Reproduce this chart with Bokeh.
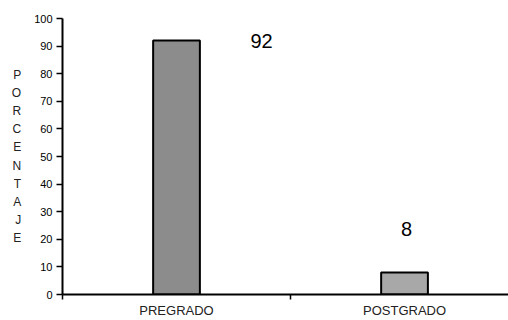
from bokeh.plotting import figure
from bokeh.models import Range1d, FixedTicker, ColumnDataSource
from bokeh.core.properties import value
from bokeh.embed import file_html
from bokeh.resources import INLINE

categories = ["PREGRADO", "POSTGRADO"]
values = [92, 8]
colors = ["#8c8c8c", "#a8a8a8"]
y_ticks = [0, 10, 20, 30, 40, 50, 60, 70, 80, 90, 100]
axis_title = "PORCENTAJE"

xs = [i + 0.5 for i in range(len(categories))]
src = ColumnDataSource(dict(x=xs, top=values, color=colors))

p = figure(width=508, height=320, output_backend="svg", toolbar_location=None,
           x_range=Range1d(0, 1.956), y_range=Range1d(0, 100),
           min_border_left=62, min_border_right=0, min_border_top=18, min_border_bottom=25)
p.outline_line_color = None
p.grid.visible = False
p.background_fill_color = "white"

p.vbar(x="x", top="top", width=0.205, fill_color="color", line_color="black", line_width=2, source=src)

# value labels (manual placements as in the original)
p.text(x=[xs[0]], y=[values[0]], text=[str(values[0])], x_offset=[85], y_offset=[0],
       text_font=value("Liberation Sans"), text_font_size="20px", text_align="center",
       text_baseline="middle", text_color="black")
p.text(x=[xs[1]], y=[values[1]], text=[str(values[1])], x_offset=[2], y_offset=[-43],
       text_font=value("Liberation Sans"), text_font_size="20px", text_align="center",
       text_baseline="middle", text_color="black")

# axes
p.yaxis.ticker = FixedTicker(ticks=y_ticks, minor_ticks=[])
p.yaxis.major_tick_in = 0
p.yaxis.major_tick_out = 6
p.yaxis.major_label_standoff = 4
p.yaxis.axis_line_width = 2
p.yaxis.major_tick_line_width = 1.5
p.yaxis.major_label_text_font = "Liberation Sans"
p.yaxis.major_label_text_font_size = "11px"
p.yaxis.major_label_text_color = "black"
p.yaxis.axis_label = "\n".join(axis_title)
p.yaxis.axis_label_orientation = "horizontal"
p.yaxis.axis_label_text_font = "Liberation Sans"
p.yaxis.axis_label_text_font_size = "12px"
p.yaxis.axis_label_text_font_style = "normal"
p.yaxis.axis_label_text_color = "#222222"
p.yaxis.axis_label_text_line_height = 1.29
p.yaxis.axis_label_text_align = "center"
p.yaxis.axis_label_standoff = 10

p.xaxis.ticker = FixedTicker(ticks=xs, minor_ticks=[0, 1, 2])
p.xaxis.major_label_overrides = {x: c for x, c in zip(xs, categories)}
p.xaxis.major_tick_in = 0
p.xaxis.major_tick_out = 0
p.xaxis.minor_tick_in = 0
p.xaxis.minor_tick_out = 5
p.xaxis.minor_tick_line_width = 1.5
p.xaxis.axis_line_width = 2
p.xaxis.major_label_standoff = 3
p.xaxis.major_label_text_font = "Liberation Sans"
p.xaxis.major_label_text_font_size = "13px"
p.xaxis.major_label_text_line_height = 0.8
p.xaxis.major_label_text_color = "#222222"

open("out.html", "w").write(file_html(p, INLINE))
